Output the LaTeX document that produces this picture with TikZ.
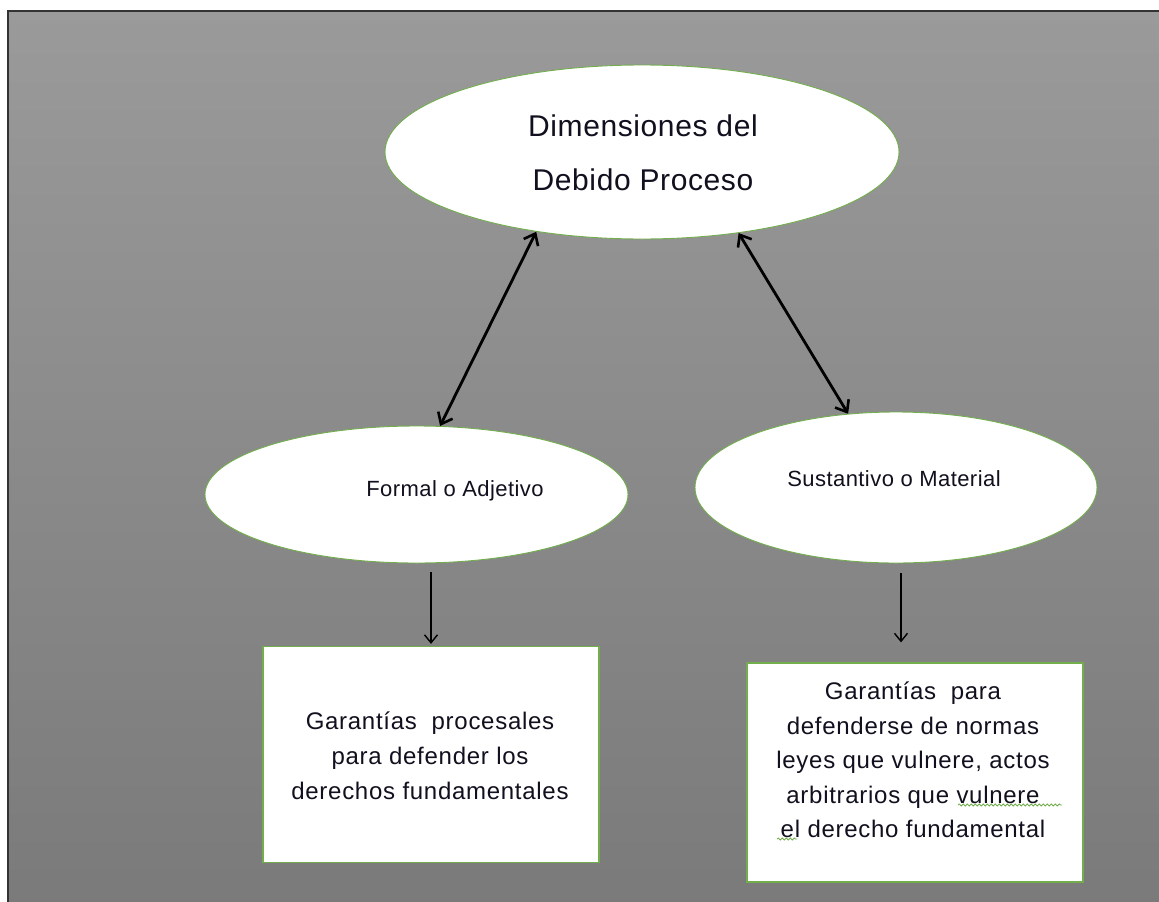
\documentclass[tikz,border=0pt]{standalone}
\usepackage{fontspec}
\setmainfont{Liberation Sans}
\newfontfamily\fa[LetterSpace=2]{Liberation Sans}
\newfontfamily\fb[LetterSpace=3]{Liberation Sans}
\usetikzlibrary{arrows.meta,shapes.geometric,decorations.pathmorphing,calc}
\definecolor{edgegreen}{HTML}{72AE4C}
\definecolor{txt}{HTML}{10101E}
\definecolor{bgtop}{HTML}{9A9A9A}
\definecolor{bgbot}{HTML}{7A7A7A}
\begin{document}
\begin{tikzpicture}[x=1pt,y=-1pt,
  oval/.style={ellipse,draw=edgegreen,line width=0.9pt,fill=white,inner sep=0pt},
  card/.style={rectangle,draw=edgegreen,line width=1.2pt,fill=white,inner sep=0pt},
  lbl/.style={text=txt,align=center,inner sep=0pt},
  bigarrow/.style={{Straight Barb[length=10pt,width=16pt,line width=2.6pt]}-{Straight Barb[length=10pt,width=16pt,line width=2.6pt]},line width=2.8pt},
  smallarrow/.style={-{Straight Barb[length=8pt,width=13pt]},line width=1.4pt},
  spell/.style={edgegreen,line width=0.8pt,decorate,decoration={snake,amplitude=1pt,segment length=4pt}}]

\useasboundingbox (0,0) rectangle (1159,902);
\fill[white] (0,0) rectangle (1159,902);
\shade[top color=bgtop,bottom color=bgbot] (8,11) rectangle (1170,912);
\draw[color=black!80,line width=2.5pt] (8,912) -- (8,11) -- (1170,11);

\node[oval,minimum width=514pt,minimum height=174pt] (top) at (642,152) {};
\node[lbl,font=\fa\fontsize{30}{54}\selectfont] (toptext) at (643,153) {Dimensiones del\\Debido Proceso};

\node[oval,minimum width=423pt,minimum height=137pt] (formal) at (416.5,494.5) {};
\node[lbl,font=\fa\fontsize{22}{26}\selectfont] (formaltext) at (455,491) {Formal o Adjetivo};

\node[oval,minimum width=402pt,minimum height=151pt] (material) at (896,487.5) {};
\node[lbl,font=\fa\fontsize{22}{26}\selectfont] (materialtext) at (894,479) {Sustantivo o Material};

\node[card,minimum width=336pt,minimum height=216pt] (leftbox) at (431,754.5) {};
\node[lbl,font=\fb\fontsize{24}{35}\selectfont] (lefttext) at (430,756) {Garantías~ procesales\\para defender los\\derechos fundamentales};

\node[card,minimum width=336pt,minimum height=219pt] (rightbox) at (915,772.5) {};
\node[lbl,font=\fb\fontsize{24}{34.5}\selectfont] (righttext) at (913,760) {Garantías~ para\\defenderse de normas\\leyes que vulnere, actos\\arbitrarios que vulnere\\el derecho fundamental};

\draw[bigarrow] (formal.71) -- (top.217);
\draw[bigarrow] (top.320) -- (material.123);

\draw[smallarrow] ($(formal.south -| leftbox.north)+(0,9)$) -- ($(leftbox.north)+(0,-2)$);
\draw[smallarrow] ($(material.south -| rightbox.north)+(-14,10)$) -- ($(rightbox.north)+(-14,-20)$);

\draw[spell] (958,805) -- (1062,805);
\draw[spell] (777,839) -- (797,839);
\end{tikzpicture}
\end{document}
